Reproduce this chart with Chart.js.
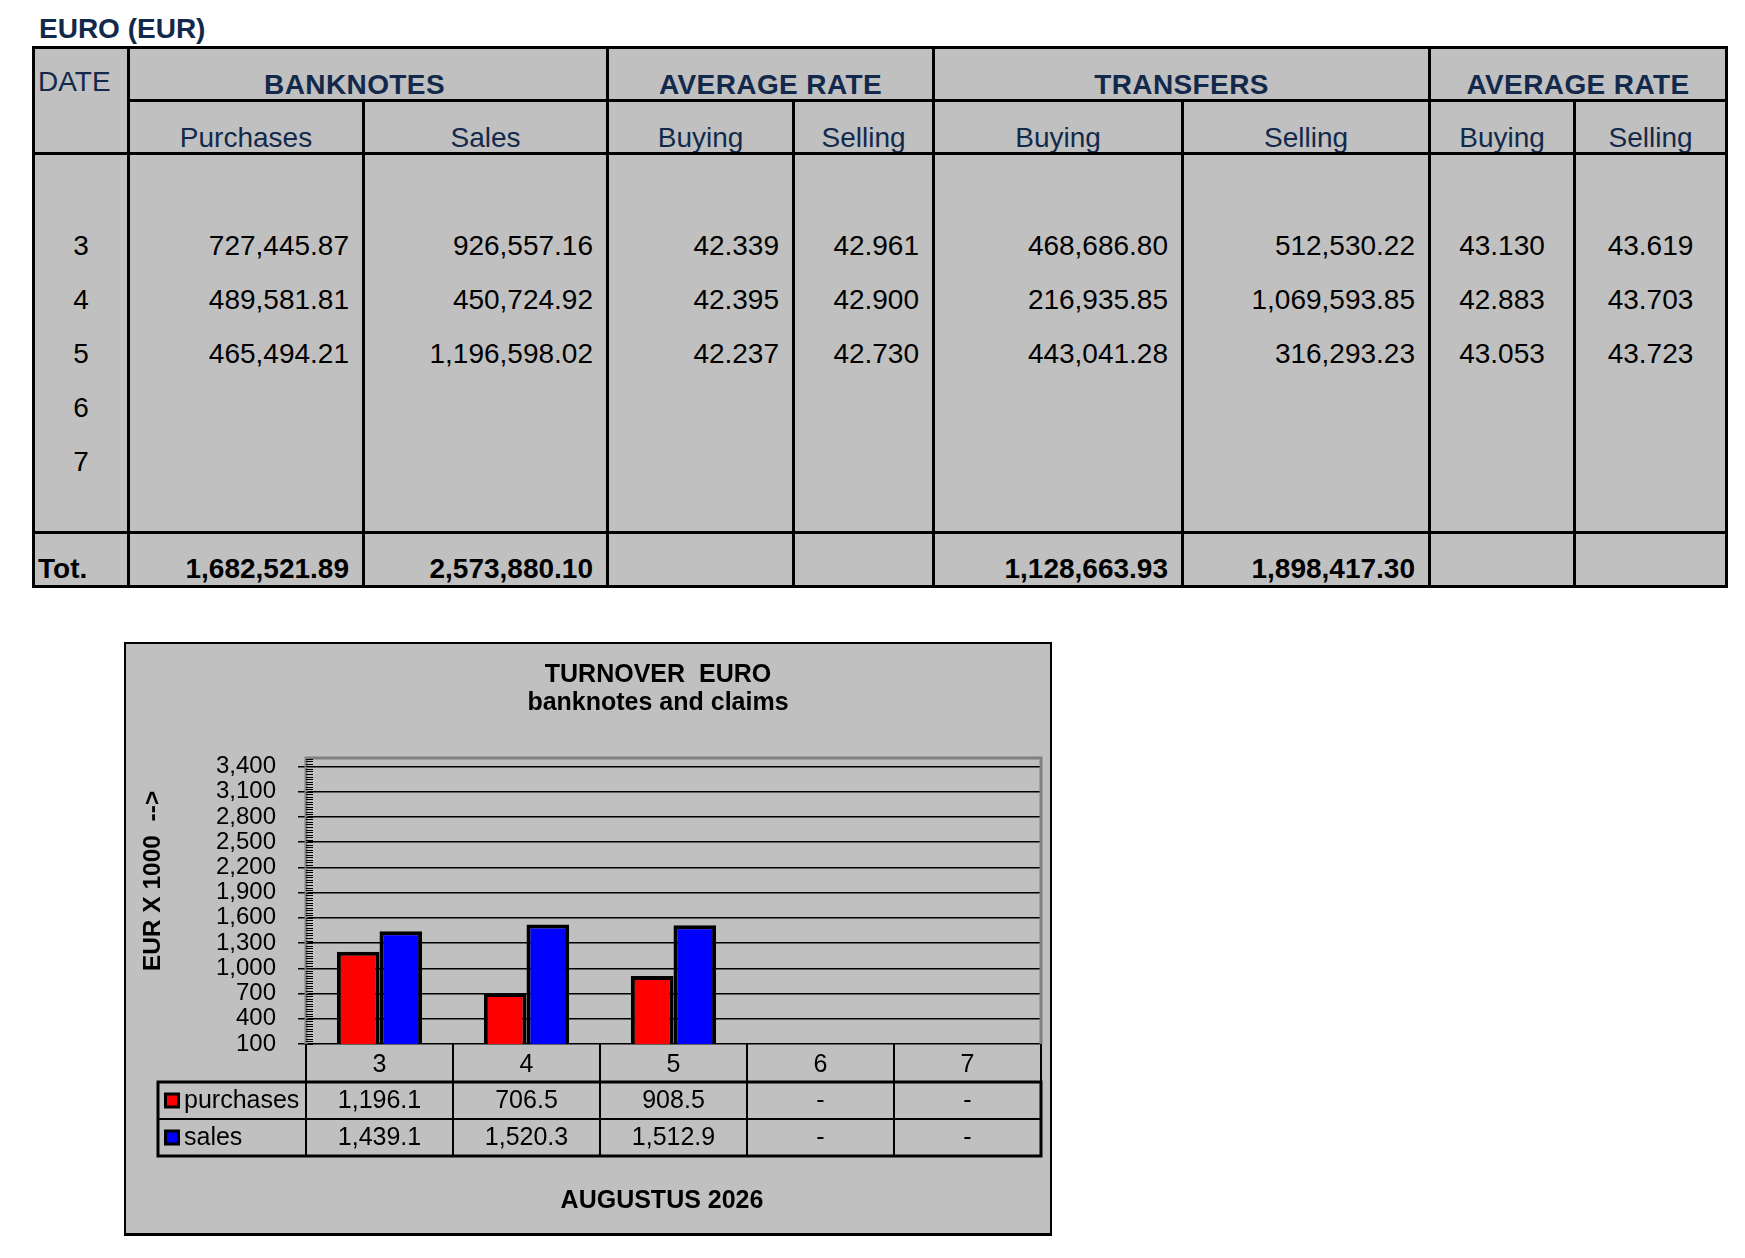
<!DOCTYPE html>
<html lang="en">
<head>
<meta charset="UTF-8">
<title>EURO (EUR)</title>
<script src="https://cdn.jsdelivr.net/npm/chart.js"></script>
<style>
  body { margin:0; background:#fff; width:1745px; height:1258px; position:relative; overflow:hidden;
         font-family:"Liberation Sans", Arial, sans-serif; }
  #heading { position:absolute; left:39px; top:13px; font-size:28px; font-weight:bold; color:#13294b; }
  #rates { position:absolute; left:32px; top:46px; width:1696px; border-collapse:collapse; table-layout:fixed;
           background:#c0c0c0; border:3px solid #000; }
  #rates td { border-left:3px solid #000; border-right:3px solid #000; padding:0; white-space:nowrap; overflow:hidden; }
  #rates .h1 td { height:50px; border-bottom:3px solid #000; vertical-align:bottom; padding-bottom:0; line-height:28px;
                  text-align:center; font-size:28px; font-weight:bold; color:#13294b; letter-spacing:0.4px; }
  #rates .h1 td.bn { padding-right:27px; }
  #rates .h1 td.date { font-weight:normal; font-size:28px; vertical-align:top; padding-top:19px;
                       text-align:left; padding-left:3px; letter-spacing:0; }
  #rates .h2 td { height:50px; border-bottom:3px solid #000; vertical-align:bottom; padding-bottom:0; line-height:28px;
                  text-align:center; font-size:28px; color:#13294b; }
  #rates .row td { height:54px; font-size:28px; color:#000; text-align:right; padding-right:13px; }
  #rates .row td.d, #rates .row td.c { text-align:center; padding-right:0; }
  #rates .gap1 td { height:64px; }
  #rates .gap2 td { height:42px; }
  #rates .tot td { height:51px; border-top:3px solid #000; font-size:28px; font-weight:bold; color:#000;
                   text-align:right; padding-right:13px; vertical-align:bottom; padding-bottom:0; }
  #rates .tot td.d { text-align:left; padding-left:3px; }
  #box { position:absolute; left:124px; top:642px; width:928px; height:594px; box-sizing:border-box;
         border:2px solid #000; border-bottom-width:3px; background:#c0c0c0; }
  #turnover { display:block; }
</style>
</head>
<body>
<div id="heading">EURO (EUR)</div>
<table id="rates">
  <colgroup>
    <col style="width:95px"><col style="width:235px"><col style="width:244px"><col style="width:186px">
    <col style="width:140px"><col style="width:249px"><col style="width:247px"><col style="width:145px"><col style="width:152px">
  </colgroup>
  <tbody id="ratesBody"></tbody>
</table>
<div id="box"><canvas id="turnover" width="924" height="589"></canvas></div>

<script>
  // top table
  const dates = ['3', '4', '5', '6', '7']
  const bnPurchases = ['727,445.87', '489,581.81', '465,494.21', '', '']
  const bnSales = ['926,557.16', '450,724.92', '1,196,598.02', '', '']
  const bnBuyRate = ['42.339', '42.395', '42.237', '', '']
  const bnSellRate = ['42.961', '42.900', '42.730', '', '']
  const trBuying = ['468,686.80', '216,935.85', '443,041.28', '', '']
  const trSelling = ['512,530.22', '1,069,593.85', '316,293.23', '', '']
  const trBuyRate = ['43.130', '42.883', '43.053', '', '']
  const trSellRate = ['43.619', '43.703', '43.723', '', '']
  const totals = ['1,682,521.89', '2,573,880.10', '', '', '1,128,663.93', '1,898,417.30', '', '']

  // chart
  const days = ['3', '4', '5', '6', '7']
  const purchases = [1196.1, 706.5, 908.5, null, null]
  const sales = [1439.1, 1520.3, 1512.9, null, null]
  const yTicks = [100, 400, 700, 1000, 1300, 1600, 1900, 2200, 2500, 2800, 3100, 3400]
  const chartTitle = ['TURNOVER  EURO', 'banknotes and claims']
  const yTitle = 'EUR X 1000  -->'
  const footer = 'AUGUSTUS 2026'

  const FONT = '"Liberation Sans", Arial, sans-serif'

  function buildTable() {
    let html = '<tr class="h1"><td class="date" rowspan="2">DATE</td><td class="bn" colspan="2">BANKNOTES</td>'
      + '<td colspan="2">AVERAGE RATE</td><td colspan="2">TRANSFERS</td><td colspan="2">AVERAGE RATE</td></tr>'
      + '<tr class="h2"><td>Purchases</td><td>Sales</td><td>Buying</td><td>Selling</td>'
      + '<td>Buying</td><td>Selling</td><td>Buying</td><td>Selling</td></tr>'
    html += '<tr class="row gap1">' + '<td></td>'.repeat(9) + '</tr>'
    for (let i = 0; i < dates.length; i++) {
      html += '<tr class="row"><td class="d">' + dates[i] + '</td><td>' + bnPurchases[i] + '</td><td>' + bnSales[i]
        + '</td><td>' + bnBuyRate[i] + '</td><td>' + bnSellRate[i] + '</td><td>' + trBuying[i]
        + '</td><td>' + trSelling[i] + '</td><td class="c">' + trBuyRate[i] + '</td><td class="c">' + trSellRate[i] + '</td></tr>'
    }
    html += '<tr class="row gap2">' + '<td></td>'.repeat(9) + '</tr>'
    html += '<tr class="tot"><td class="d">Tot.</td>' + totals.map(t => '<td>' + t + '</td>').join('') + '</tr>'
    document.getElementById('ratesBody').innerHTML = html
  }
  buildTable()

  const fmt = v => v == null ? '-' : v.toLocaleString('en-US', { minimumFractionDigits: 1, maximumFractionDigits: 1 })

  const overlay = {
    id: 'overlay',
    beforeDatasetsDraw(chart) {
      const { ctx, chartArea: a, scales: { y } } = chart
      ctx.save()
      // plot frame
      ctx.strokeStyle = '#808080'
      ctx.lineWidth = 3
      ctx.beginPath()
      ctx.moveTo(a.left, a.bottom)
      ctx.lineTo(a.left, a.top)
      ctx.lineTo(a.right, a.top)
      ctx.lineTo(a.right, a.bottom)
      ctx.stroke()
      // minor ticks
      ctx.strokeStyle = '#000'
      ctx.lineWidth = 1
      for (let v = y.min; v <= y.max; v += 30) {
        const py = Math.round(y.getPixelForValue(v)) + 0.5
        ctx.beginPath()
        ctx.moveTo(a.left, py)
        ctx.lineTo(a.left + 7, py)
        ctx.stroke()
      }
      ctx.restore()
    },
    afterDraw(chart) {
      const { ctx, chartArea: a, scales: { x } } = chart
      const cw = (a.right - a.left) / days.length
      const r0 = a.bottom, r1 = a.bottom + 38, r2 = r1 + 37, r3 = r2 + 37
      const tl = 32
      ctx.save()
      ctx.strokeStyle = '#000'
      // vertical separators
      ctx.lineWidth = 2
      for (let i = 0; i <= days.length; i++) {
        const px = Math.round(a.left + i * cw)
        ctx.beginPath()
        ctx.moveTo(px, r0)
        ctx.lineTo(px, r3)
        ctx.stroke()
      }
      ctx.beginPath()
      ctx.moveTo(tl, r2)
      ctx.lineTo(a.right, r2)
      ctx.stroke()
      ctx.lineWidth = 3
      ctx.strokeRect(tl, r1, a.right - tl, r3 - r1)

      // legend keys and values
      const rows = [['purchases', '#ff0000', purchases, r1], ['sales', '#0000ff', sales, r2]]
      ctx.font = '25px ' + FONT
      ctx.textBaseline = 'middle'
      rows.forEach(([name, col, vals, top]) => {
        const cy = top + 18.5
        ctx.fillStyle = '#000'
        ctx.fillRect(tl + 6, cy - 8, 16, 16)
        ctx.fillStyle = col
        ctx.fillRect(tl + 9, cy - 5, 10, 10)
        ctx.fillStyle = '#000'
        ctx.textAlign = 'left'
        ctx.fillText(name, tl + 26, cy + 1)
        ctx.textAlign = 'center'
        vals.forEach((v, i) => ctx.fillText(fmt(v), x.getPixelForValue(i), cy + 1))
      })

      // titles
      ctx.fillStyle = '#000'
      ctx.textAlign = 'center'
      ctx.textBaseline = 'alphabetic'
      ctx.font = 'bold 25px ' + FONT
      ctx.fillText(chartTitle[0], 532, 38)
      ctx.fillText(chartTitle[1], 532, 66)
      ctx.fillText(footer, 536, 564)
      ctx.translate(27, 237)
      ctx.rotate(-Math.PI / 2)
      ctx.textBaseline = 'middle'
      ctx.font = 'bold 24.5px ' + FONT
      ctx.fillText(yTitle, 0, 0)
      ctx.restore()
    }
  }

  new Chart(document.getElementById('turnover'), {
    type: 'bar',
    data: {
      labels: days,
      datasets: [
        { label: 'purchases', data: purchases, backgroundColor: '#ff0000', borderColor: '#000', borderWidth: 4,
          borderSkipped: false, categoryPercentage: 0.58, barPercentage: 1 },
        { label: 'sales', data: sales, backgroundColor: '#0000ff', borderColor: '#000', borderWidth: 4,
          borderSkipped: false, categoryPercentage: 0.58, barPercentage: 1 }
      ]
    },
    options: {
      responsive: false,
      animation: false,
      devicePixelRatio: 1,
      layout: { padding: { top: 114, right: 9, bottom: 76, left: 0 } },
      plugins: { legend: { display: false }, title: { display: false }, tooltip: { enabled: false } },
      scales: {
        x: {
          grid: { display: false, drawTicks: false },
          border: { display: false },
          ticks: { padding: 6, color: '#000', font: { size: 25, family: FONT } },
          afterFit(s) { s.height = 113 }
        },
        y: {
          min: 100,
          max: 3500,
          afterBuildTicks(s) { s.ticks = yTicks.map(v => ({ value: v })) },
          ticks: { autoSkip: false, padding: 22, color: '#000', font: { size: 24, family: FONT, lineHeight: 1 },
                   callback: v => v.toLocaleString('en-US') },
          grid: { color: '#000', lineWidth: 1.5, tickLength: 8 },
          border: { display: false },
          afterFit(s) { s.width = 180 }
        }
      }
    },
    plugins: [overlay]
  });
</script>
</body>
</html>
